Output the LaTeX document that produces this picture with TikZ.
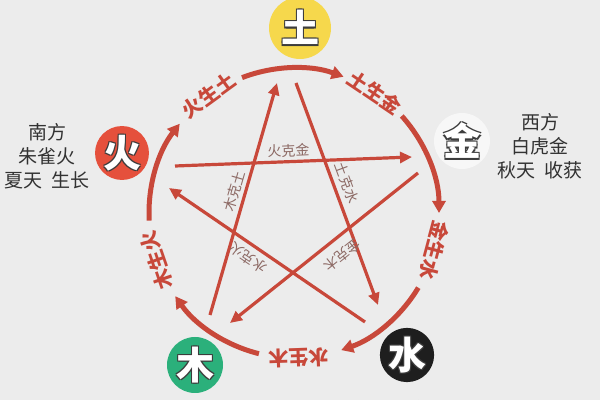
\documentclass[tikz,border=0pt]{standalone}
\usepackage{fontspec}
\newfontfamily\cjk{Noto Sans CJK SC}
\usetikzlibrary{arrows.meta}
\definecolor{bgc}{RGB}{236,236,236}
\definecolor{redl}{RGB}{200,72,58}
\definecolor{labc}{RGB}{140,105,100}
\definecolor{txtc}{RGB}{50,50,50}
\definecolor{shadowc}{RGB}{60,60,60}
\definecolor{tuc}{RGB}{246,216,76}
\definecolor{jinc}{RGB}{247,247,247}
\definecolor{huoc}{RGB}{229,80,60}
\definecolor{muc}{RGB}{43,176,123}
\definecolor{shuic}{RGB}{30,30,30}
\newcommand\olchar[1]{\leavevmode\rlap{\kern0.7pt\raisebox{-0.7pt}{\color{shadowc}#1}}\rlap{\kern-0.5pt\raisebox{0.5pt}{\color{shadowc}#1}}\rlap{\kern0.7pt\raisebox{0.5pt}{\color{shadowc}#1}}\rlap{\kern-0.5pt\raisebox{-0.7pt}{\color{shadowc}#1}}{\color{white}#1}}
\tikzset{
  elem/.style={circle, inner sep=0pt, minimum size=28pt, font=\cjk\bfseries\fontsize{19}{19}\selectfont},
  sheng/.style={draw=redl, line width=2.5pt, -{Triangle[length=6pt,width=6.5pt]}},
  ke/.style={draw=redl, line width=1.6pt, -{Triangle[length=6pt,width=5.5pt]}},
  shenglabel/.style={text=redl, inner sep=0pt, font=\cjk\bfseries\fontsize{10}{10}\selectfont},
  kelabel/.style={text=labc, sloped, allow upside down, above, inner sep=1.5pt, font=\cjk\fontsize{7}{7}\selectfont},
  sidetext/.style={text=txtc, align=center, font=\cjk\fontsize{9.5}{12}\selectfont}
}
\begin{document}
\begin{tikzpicture}[x=0.5pt,y=0.5pt]
\fill[bgc] (0,0) rectangle (600,-400);
\useasboundingbox (0,0) rectangle (600,-400);
\coordinate (O) at (294,-213);
% generating cycle arcs
\draw[sheng] ([shift={(111:72.5pt)}]O) arc[start angle=111, end angle=70, radius=72.5pt];
\draw[sheng] ([shift={(42:72.5pt)}]O) arc[start angle=42, end angle=0, radius=72.5pt];
\draw[sheng] ([shift={(-31:72.5pt)}]O) arc[start angle=-31, end angle=-71, radius=72.5pt];
\draw[sheng] ([shift={(-104:72.5pt)}]O) arc[start angle=-104, end angle=-145, radius=72.5pt];
\draw[sheng] ([shift={(183:72.5pt)}]O) arc[start angle=183, end angle=142, radius=72.5pt];
\node[shenglabel, rotate=36] (l1) at ([shift={(126:72.5pt)}]O) {火生土};
\node[shenglabel, rotate=-34] (l2) at ([shift={(56:72.5pt)}]O) {土生金};
\node[shenglabel, rotate=-105] (l3) at ([shift={(-15:72.5pt)}]O) {金生水};
\node[shenglabel, rotate=-178] (l4) at ([shift={(-88:72.5pt)}]O) {水生木};
\node[shenglabel, rotate=109] (l5) at ([shift={(-161:72.5pt)}]O) {木生火};
% controlling cycle (star)
\coordinate (h1) at (175,-166); \coordinate (h2) at (412,-157);
\coordinate (m1) at (210,-315); \coordinate (m2) at (277,-83);
\coordinate (t1) at (296,-83);  \coordinate (t2) at (378,-305);
\coordinate (s1) at (365,-322); \coordinate (s2) at (169,-188);
\coordinate (j1) at (418,-173); \coordinate (j2) at (230,-323);
\draw[ke] (h1) -- node[kelabel, pos=0.48] {火克金} (h2);
\draw[ke] (m1) -- node[kelabel, pos=0.52] {木克土} (m2);
\draw[ke] (t1) -- node[kelabel, pos=0.47, inner sep=2.5pt] {土克水} (t2);
\draw[ke] (s1) -- node[kelabel, pos=0.56, inner sep=2.5pt] {水克火} (s2);
\draw[ke] (j1) -- node[kelabel, pos=0.46, inner sep=4.5pt] {金克木} (j2);
% element nodes
\node[elem, fill=tuc, minimum size=31pt] (tu) at (300,-28) {\olchar{土}};
\node[elem, fill=jinc] (jin) at (462,-141) {\olchar{金}};
\node[elem, fill=shuic, minimum size=27pt] (shui) at (407,-355) {\olchar{水}};
\node[elem, fill=muc] (mu) at (195,-365) {\olchar{木}};
\node[elem, fill=huoc, minimum size=26pt] (huo) at (122,-153) {\olchar{火}};
% side texts
\node[sidetext] (south) at (47,-156) {南方\\朱雀火\\夏天\hspace{0.5em}生长};
\node[sidetext] (west) at (540,-146) {西方\\白虎金\\秋天\hspace{0.5em}收获};
\node[sidetext] (north) at (409,-409) {北方};
\end{tikzpicture}
\end{document}
